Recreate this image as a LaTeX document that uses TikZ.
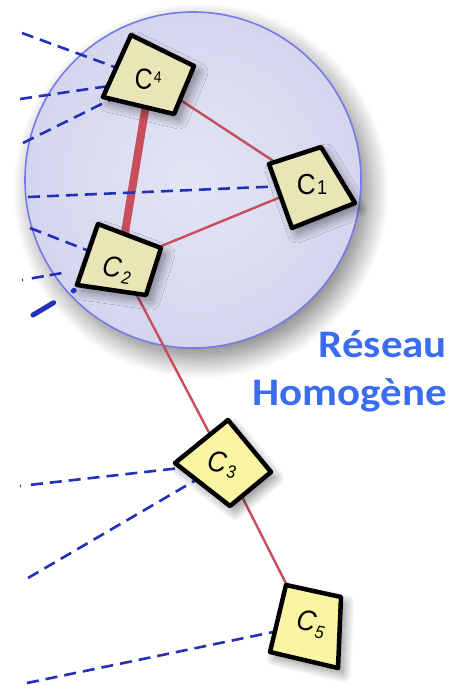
\documentclass[tikz,border=0pt]{standalone}
\usepackage{fontspec}
\setmainfont{Liberation Sans}
\newfontfamily\titlefont{Carlito}
\usetikzlibrary{shadows.blur}
\definecolor{circfill}{RGB}{212,214,238}
\definecolor{circin}{RGB}{228,229,245}
\definecolor{circedge}{RGB}{120,122,236}
\definecolor{netred}{RGB}{200,78,92}
\definecolor{netblue}{RGB}{34,48,186}
\definecolor{boxtan}{RGB}{233,229,182}
\definecolor{boxyel}{RGB}{250,245,162}
\definecolor{titleblue}{RGB}{58,108,240}
\newcommand\clab[3]{C\kern1.5pt\raisebox{#3pt}{\fontsize{#2}{#2}\selectfont #1}}
\tikzset{
  redlink/.style={draw=netred, line width=2.4pt},
  thicklink/.style={draw=netred, line width=8pt},
  bluelink/.style={draw=netblue, line width=2.6pt, dash pattern=on 12pt off 7pt},
  clbox/.style={draw=black, line width=4.5pt, line join=round,
    blur shadow={shadow xshift=5pt, shadow yshift=-6pt, shadow blur radius=9pt, shadow opacity=45, shadow blur steps=12}},
  clabel/.style={font=\fontsize{29}{29}\selectfont, inner sep=0pt},
  titletext/.style={font=\titlefont\bfseries\fontsize{39}{39}\selectfont, text=titleblue, inner sep=0pt, xscale=1.1}
}
\begin{document}
\begin{tikzpicture}[x=1pt, y=-1pt]
\useasboundingbox (0,0) rectangle (450,685);
% network circle
\fill[circfill, blur shadow={shadow xshift=8pt, shadow yshift=-11pt, shadow blur radius=20pt, shadow opacity=50, shadow blur steps=16}] (193,180) circle[radius=168];
\shade[inner color=circin, outer color=circfill] (193,180) circle[radius=166];
\draw[circedge, line width=1.6pt] (193,180) circle[radius=168];
% centres
\coordinate (c4) at (150,80);
\coordinate (c1) at (310,185);
\coordinate (c2) at (120,263);
\coordinate (c3) at (225,463);
\coordinate (c5) at (307,625);
% free ends
\coordinate (e1) at (22,33);
\coordinate (e2) at (20,99);
\coordinate (e3) at (23,143);
\coordinate (e4) at (28,197);
\coordinate (e5) at (30,228);
\coordinate (e6) at (22,280);
\coordinate (e7) at (33,315);
\coordinate (e8) at (20,486);
\coordinate (e9) at (28,578);
\coordinate (e10) at (27,683);
% red links
\draw[thicklink] (c4) -- (c2);
\draw[redlink] (c4) -- (c1);
\draw[redlink] (c2) -- (c1);
\draw[redlink] (c2) -- (c3);
\draw[redlink] (c3) -- (c5);
% blue dashed links
\draw[bluelink] (e1) -- (c4);
\draw[bluelink] (e2) -- (c4);
\draw[bluelink] (e3) -- (c4);
\draw[bluelink] (e4) -- (c1);
\draw[bluelink] (e5) -- (c2);
\draw[bluelink, dash pattern=on 1pt off 9pt on 12pt off 6pt on 12pt off 20pt] (e6) -- (c2);
\draw[netblue, line width=5pt, line cap=round, dash pattern=on 24pt off 23pt on 1pt off 40pt] (e7) -- (c2);
\draw[bluelink, dash pattern=on 1pt off 10pt on 12pt off 7pt on 12pt off 7pt on 12pt off 7pt on 12pt off 7pt on 12pt off 7pt on 12pt off 7pt on 12pt off 7pt on 12pt off 40pt] (e8) -- (c3);
\draw[bluelink] (e9) -- (c3);
\draw[bluelink] (e10) -- (c5);
% boxes
\filldraw[clbox, fill=boxtan] (131,35) -- (194,66) -- (174,114) -- (103,97) -- cycle;
\filldraw[clbox, fill=boxtan] (269,164) -- (321,147) -- (355,203) -- (292,228) -- cycle;
\filldraw[clbox, fill=boxtan] (98,224) -- (161,248) -- (146,295) -- (77,285) -- cycle;
\filldraw[clbox, fill=boxyel] (228,420) -- (271,472) -- (230,506) -- (175,463) -- cycle;
\filldraw[clbox, fill=boxyel] (286,585) -- (341,597) -- (338,668) -- (270,652) -- cycle;
% labels
\node[clabel, rotate=-4, xscale=0.85] (l4) at (148,79) {\clab{4}{16}{7}};
\node[clabel, xscale=0.9] (l1) at (312,185) {\clab{1}{20}{0}};
\node[clabel, rotate=-8, xscale=0.9] (l2) at (117,270) {\itshape\clab{2}{18}{-5}};
\node[clabel, rotate=-8, xscale=0.9] (l3) at (222,465) {\itshape\clab{3}{18}{-4}};
\node[clabel, rotate=-12, xscale=0.9] (l5) at (311,624) {\itshape\clab{5}{18}{-5}};
% title
\node[titletext, anchor=base east] (t1) at (447,357) {Réseau};
\node[titletext, anchor=base east] (t2) at (447,405) {Homogène};
\end{tikzpicture}
\end{document}
